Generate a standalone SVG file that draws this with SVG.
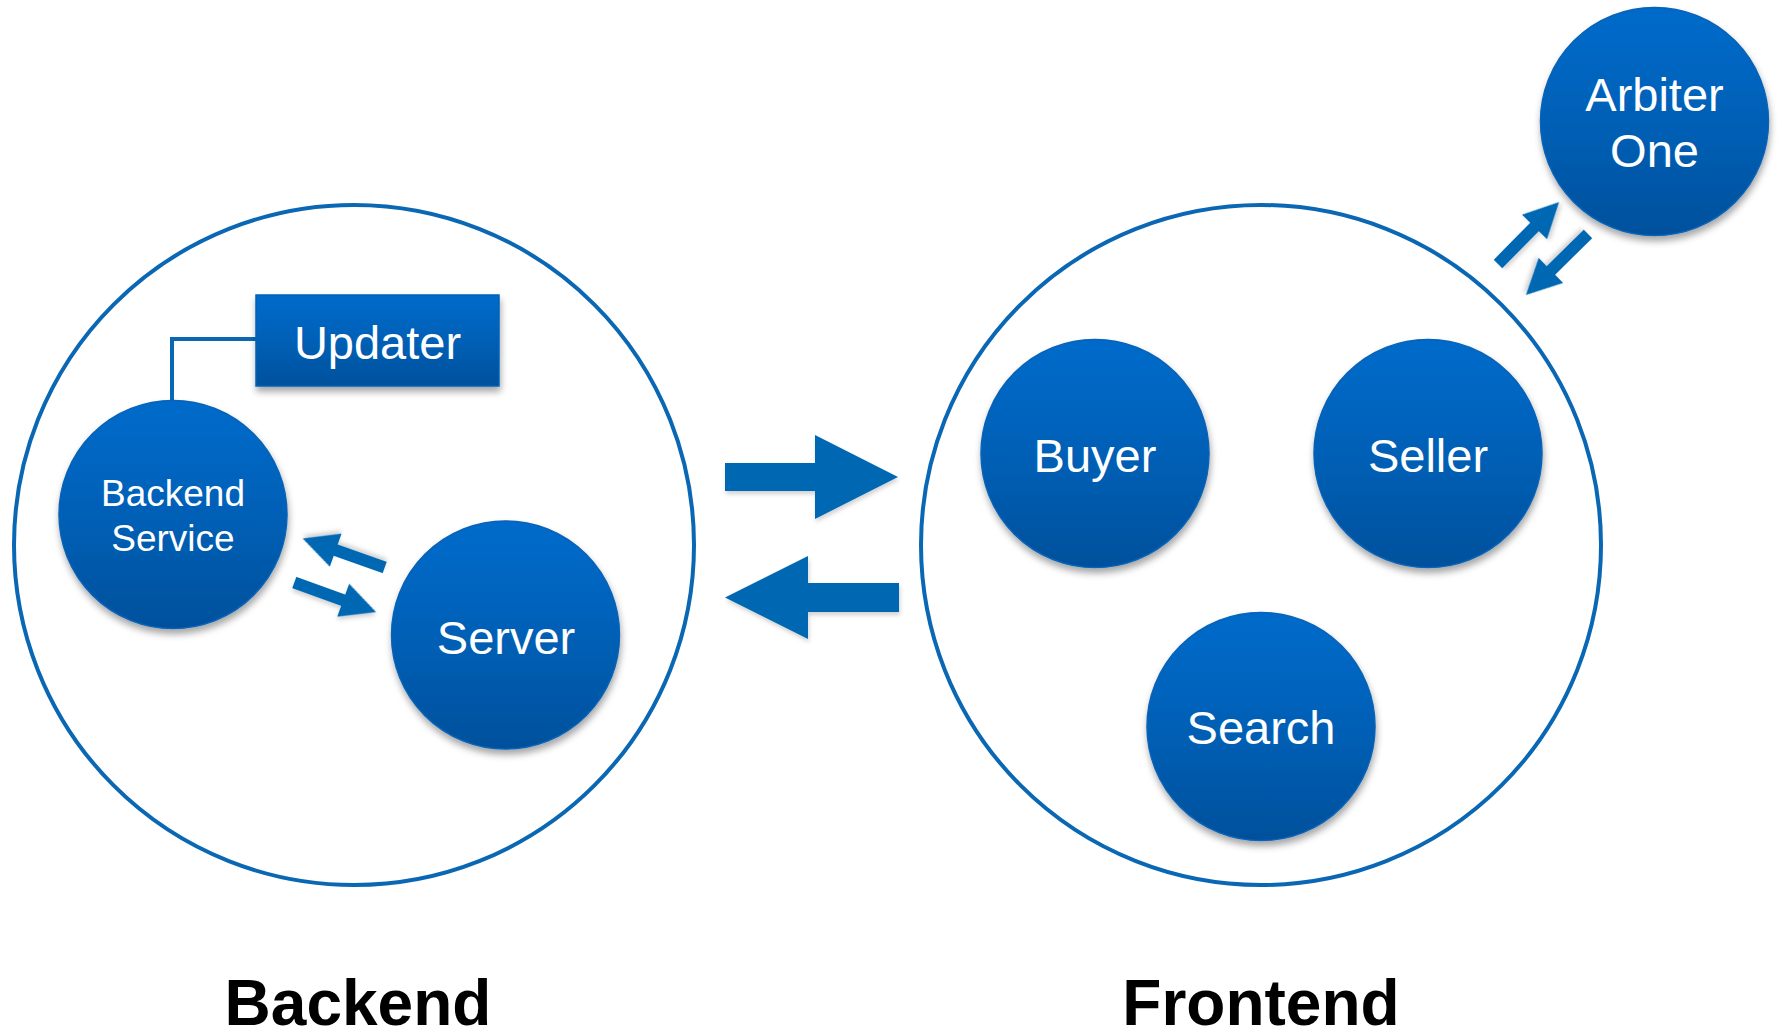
<svg xmlns="http://www.w3.org/2000/svg" width="1777" height="1032" viewBox="0 0 1777 1032">
  <defs>
    <linearGradient id="nodeFill" x1="0" y1="0" x2="0" y2="1">
      <stop offset="0" stop-color="#006bcb"/>
      <stop offset="0.5" stop-color="#0060b6"/>
      <stop offset="1" stop-color="#00509c"/>
    </linearGradient>
    <filter id="shadow" x="-20%" y="-20%" width="140%" height="145%">
      <feGaussianBlur in="SourceAlpha" stdDeviation="3.5"/>
      <feOffset dx="1" dy="5" result="b"/>
      <feFlood flood-color="#000" flood-opacity="0.35"/>
      <feComposite in2="b" operator="in"/>
      <feMerge><feMergeNode/><feMergeNode in="SourceGraphic"/></feMerge>
    </filter>
    <filter id="soft" x="-20%" y="-20%" width="140%" height="150%">
      <feGaussianBlur in="SourceAlpha" stdDeviation="2"/>
      <feOffset dx="1" dy="3" result="b"/>
      <feFlood flood-color="#000" flood-opacity="0.18"/>
      <feComposite in2="b" operator="in"/>
      <feMerge><feMergeNode/><feMergeNode in="SourceGraphic"/></feMerge>
    </filter>
    <path id="smallArrow" d="M0,-6 H52 V-17.5 L87,0 L52,17.5 V6 H0 Z"/>
  </defs>
  <style>
    .group { fill: none; stroke: #0a67b4; stroke-width: 4; }
    .node { fill: url(#nodeFill); stroke: #0862b6; stroke-width: 1.5; filter: url(#shadow); }
    .label { fill: #ffffff; font-family: "Liberation Sans", Arial, sans-serif; text-anchor: middle; }
    .big { font-size: 47px; }
    .small { font-size: 37px; }
    .title { fill: #000000; font-family: "Liberation Sans", Arial, sans-serif; font-weight: bold; font-size: 64px; text-anchor: middle; }
    .arrow { fill: #0567b3; filter: url(#soft); }
    .link { fill: none; stroke: #0a67b4; stroke-width: 4; }
  </style>

  <rect width="1777" height="1032" fill="#ffffff"/>

  <!-- enclosing groups -->
  <g id="backend-group">
    <circle class="group" cx="354" cy="545" r="340"/>
    <text class="title" x="358" y="1025">Backend</text>
  </g>
  <g id="frontend-group">
    <circle class="group" cx="1261" cy="545" r="340"/>
    <text class="title" x="1261" y="1025">Frontend</text>
  </g>

  <!-- connectors -->
  <g id="connectors">
    <path class="link" d="M258,339 H172 V402"/>
    <use class="arrow" href="#smallArrow" transform="translate(384.7,567.5) rotate(199.5)"/>
    <use class="arrow" href="#smallArrow" transform="translate(294.3,582.5) rotate(19.9)"/>
    <use class="arrow" href="#smallArrow" transform="translate(1498,264) rotate(-45.4)"/>
    <use class="arrow" href="#smallArrow" transform="translate(1588,234) rotate(135.5)"/>
    <path class="arrow" d="M725,463 H815 V435 L898,477 L815,519 V491 H725 Z"/>
    <path class="arrow" d="M899,583 H808 V556 L725,597.5 L808,639 V612 H899 Z"/>
  </g>

  <!-- backend nodes -->
  <g id="updater">
    <rect class="node" x="256" y="295" width="243" height="91"/>
    <text class="label big" x="377.5" y="359">Updater</text>
  </g>
  <g id="backend-service">
    <circle class="node" cx="173" cy="514.5" r="114"/>
    <text class="label small" x="173" y="505.5">Backend</text>
    <text class="label small" x="173" y="550.5">Service</text>
  </g>
  <g id="server">
    <circle class="node" cx="505.5" cy="635" r="114"/>
    <text class="label big" x="506" y="654">Server</text>
  </g>

  <!-- frontend nodes -->
  <g id="buyer">
    <circle class="node" cx="1095" cy="453.5" r="114"/>
    <text class="label big" x="1095" y="471.5">Buyer</text>
  </g>
  <g id="seller">
    <circle class="node" cx="1428" cy="453.5" r="114"/>
    <text class="label big" x="1428" y="471.5">Seller</text>
  </g>
  <g id="search">
    <circle class="node" cx="1261" cy="726.5" r="114"/>
    <text class="label big" x="1261" y="743.5">Search</text>
  </g>

  <!-- external node -->
  <g id="arbiter-one">
    <circle class="node" cx="1654.5" cy="121.5" r="114"/>
    <text class="label big" x="1654.5" y="110.5">Arbiter</text>
    <text class="label big" x="1654.5" y="166.5">One</text>
  </g>
</svg>
